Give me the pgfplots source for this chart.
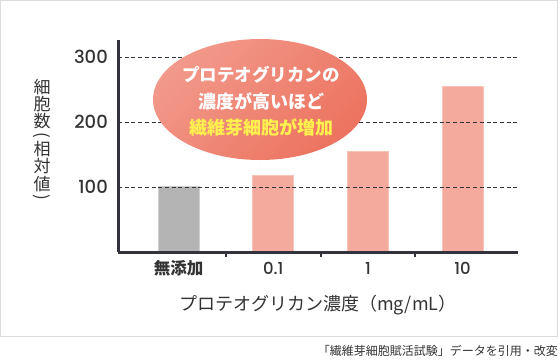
\documentclass[border=0pt]{standalone}
\usepackage{pgfplots}
\pgfplotsset{compat=1.18}
\usepackage{fontspec}
\setmainfont{Noto Sans CJK JP}
\newfontfamily\jp{Noto Sans CJK JP}
\newfontfamily\numfont{Poppins}[UprightFont=* Medium]
\definecolor{axiscol}{HTML}{33333D}
\definecolor{txt}{HTML}{333333}
\definecolor{graybar}{HTML}{B4B4B4}
\definecolor{grayedge}{HTML}{CFCFCF}
\definecolor{salmon}{HTML}{F4AA9C}
\definecolor{salmonedge}{HTML}{F7C2B7}
\definecolor{ellA}{HTML}{F2998B}
\definecolor{ellB}{HTML}{EC735F}
\definecolor{yel}{HTML}{FFF04F}
\definecolor{frame}{HTML}{DCDCDC}
\begin{document}
\begin{tikzpicture}
\begin{scope}[x=1bp,y=-1bp]
\useasboundingbox (0,0) rectangle (560,361);
\draw[frame, line width=1.2bp] (0.6,0.6) rectangle (557.4,336.6);
\end{scope}
\begin{axis}[
  at={(118bp,-252bp)}, anchor=south west,
  scale only axis, width=400bp, height=212bp,
  xmin=-0.64, xmax=3.585, ymin=0, ymax=326,
  axis lines*=left,
  axis line style={line width=3bp, color=axiscol},
  axis on top,
  ytick={100,200,300}, yticklabels={100,200,300},
  yticklabel style={font=\numfont\fontsize{18bp}{18bp}\selectfont, text=txt, anchor=base east, inner sep=0pt, xshift=-10bp, yshift=-6.5bp},
  xtick={0,1,2,3},
  xticklabels={{\jp\bfseries 無添加},0.1,1,10},
  xticklabel style={font=\numfont\fontsize{16.5bp}{16.5bp}\selectfont, text=txt, anchor=base, inner sep=0pt, yshift=-22bp},
  minor xtick={0.5,1.5,2.5},
  major tick length=0pt, minor tick length=5bp,
  minor tick style={line width=2bp, color=axiscol},
  tick align=inside,
  ymajorgrids,
  grid style={dash pattern=on 4bp off 2.7bp, line width=0.8bp, color=axiscol},
  ybar, bar width=41bp,
]
\addplot[ybar, bar shift=0pt, fill=graybar, draw=grayedge, line width=1bp] coordinates {(0,100)};
\addplot[ybar, bar shift=0pt, fill=salmon, draw=salmonedge, line width=1bp] coordinates {(1,117) (2,155) (3,255)};
\end{axis}
\begin{scope}[x=1bp,y=-1bp]
\shade[top color=ellA, bottom color=ellB, shading angle=45] (260,99.5) ellipse (107bp and 60.5bp);
\node[text=white, font=\jp\bfseries\fontsize{17.5bp}{17.5bp}\selectfont, inner sep=0pt] at (261,75) {プロテオグリカンの};
\node[text=white, font=\jp\bfseries\fontsize{18bp}{18bp}\selectfont, inner sep=0pt] at (261,101.5) {濃度が高いほど};
\node[text=yel, font=\jp\bfseries\fontsize{18bp}{18bp}\selectfont, inner sep=0pt] at (261,127) {繊維芽細胞が増加};
% y label (vertical)
\foreach \c/\y in {細/87, 胞/104, 数/121, 相/149, 対/166.5, 値/184}
  \node[text=txt, font=\jp\fontsize{17bp}{17bp}\selectfont, inner sep=0pt] at (42,\y) {\c};
\node[text=txt, font=\jp\fontsize{17bp}{17bp}\selectfont, inner sep=0pt, rotate=-90] at (42,135) {(};
\node[text=txt, font=\jp\fontsize{17bp}{17bp}\selectfont, inner sep=0pt, rotate=-90] at (42,197.5) {)};
% x label
\node[text=txt, font=\jp\fontsize{18bp}{18bp}\selectfont, inner sep=0pt] at (318,305) {プロテオグリカン濃度（mg/mL）};
% footer
\node[text=txt, font=\jp\fontsize{12bp}{12bp}\selectfont, inner sep=0pt, anchor=east] at (558,351) {「繊維芽細胞賦活試験」データを引用・改変};
\end{scope}
\end{tikzpicture}
\end{document}
